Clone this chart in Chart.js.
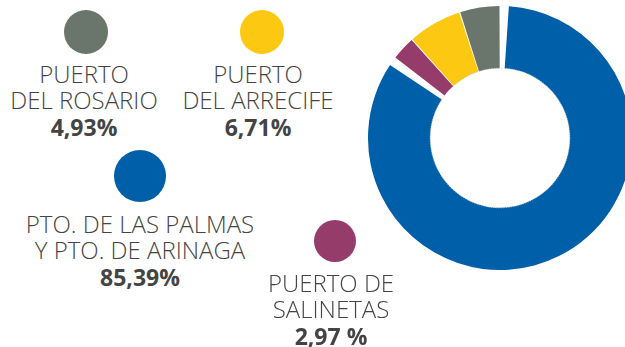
<!DOCTYPE html>
<html>
<head>
<meta charset="utf-8">
<script src="https://cdn.jsdelivr.net/npm/chart.js@4.4.0/dist/chart.umd.min.js"></script>
<style>
  html, body { margin: 0; padding: 0; background: #fff; }
  body { width: 625px; height: 347px; position: relative; overflow: hidden; font-family: "Open Sans", sans-serif; }
  #donut { position: absolute; left: 368px; top: 6px; width: 264px; height: 264px; }
  .dot { position: absolute; border-radius: 50%; }
  .txt { position: absolute; text-align: center; color: #444; font-size: 24px; font-weight: 300; line-height: 26px; white-space: nowrap; transform: translateX(-50%); }
  .txt b { display: block; font-weight: 700; font-size: 23px; line-height: 28px; color: #444; }
</style>
</head>
<body>
<div id="donut"><canvas id="chart"></canvas></div>
<div id="legend"></div>
<script>
// ports, in drawing order (clockwise from the top)
const ports = [
  ['PTO. DE LAS PALMAS', 'Y PTO. DE ARINAGA'],
  ['PUERTO DE', 'SALINETAS'],
  ['PUERTO', 'DEL ARRECIFE'],
  ['PUERTO', 'DEL ROSARIO']
];
const shares = [85.39, 2.97, 6.71, 4.93];
const pctSuffix = ['%', ' %', '%', '%'];
const colors = ['#005fa9', '#953c6b', '#fcc812', '#6a756b'];

// where each legend bubble and its text go
const legendPos = [
  { cx: 140, cy: 176, r: 26, tx: 140, ty: 211 },
  { cx: 335, cy: 241, r: 21, tx: 331, ty: 270 },
  { cx: 262, cy: 32, r: 22, tx: 258, ty: 61 },
  { cx: 86, cy: 32, r: 22, tx: 84, ty: 61 }
];

const legend = document.getElementById('legend');
ports.forEach((lines, i) => {
  const p = legendPos[i];
  const dot = document.createElement('div');
  dot.className = 'dot';
  dot.style.left = (p.cx - p.r) + 'px';
  dot.style.top = (p.cy - p.r) + 'px';
  dot.style.width = dot.style.height = (p.r * 2) + 'px';
  dot.style.background = colors[i];
  legend.appendChild(dot);

  const txt = document.createElement('div');
  txt.className = 'txt';
  txt.style.left = p.tx + 'px';
  txt.style.top = p.ty + 'px';
  txt.innerHTML = lines.join('<br>') + '<b>' + shares[i].toFixed(2).replace('.', ',') + pctSuffix[i] + '</b>';
  legend.appendChild(txt);
});

// faint dotted ring around the hole
const holeRing = {
  id: 'holeRing',
  afterDatasetsDraw(chart) {
    const arc = chart.getDatasetMeta(0).data[0];
    if (!arc) return;
    const ctx = chart.ctx;
    ctx.save();
    ctx.beginPath();
    ctx.arc(arc.x, arc.y, arc.innerRadius + 2.5, 0, Math.PI * 2);
    ctx.strokeStyle = '#d0d0d0';
    ctx.lineWidth = 1;
    ctx.setLineDash([1, 1.5]);
    ctx.stroke();
    ctx.restore();
  }
};

new Chart(document.getElementById('chart'), {
  type: 'doughnut',
  data: {
    labels: ports.map(l => l.join(' ')),
    datasets: [{
      data: shares,
      backgroundColor: colors,
      borderWidth: 0,
      spacing: 5
    }]
  },
  options: {
    responsive: true,
    maintainAspectRatio: false,
    animation: false,
    cutout: '52%',
    layout: { padding: 0 },
    plugins: { legend: { display: false }, tooltip: { enabled: false } }
  },
  plugins: [holeRing]
});
</script>
</body>
</html>
